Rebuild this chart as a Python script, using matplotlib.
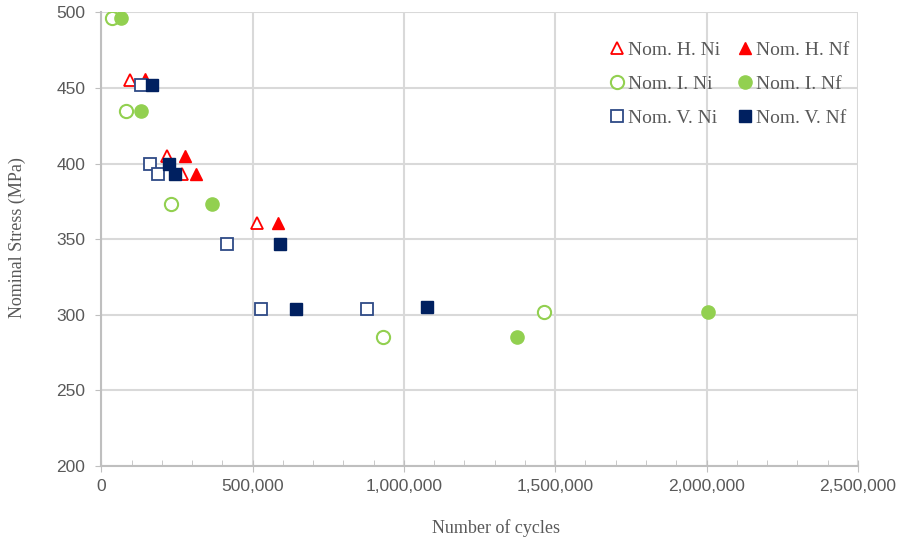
import matplotlib.pyplot as plt
from matplotlib.ticker import FuncFormatter, MultipleLocator

# cycles and stress
h_ni_x = [93000, 217000, 268000, 514000]
h_ni_y = [455, 405, 393, 361]
h_nf_x = [143000, 275000, 312000, 585000]
h_nf_y = [456, 405, 393, 361]

i_ni_x = [35000, 81000, 231000, 932000, 1464000]
i_ni_y = [496, 435, 373, 285, 302]
i_nf_x = [65000, 131000, 367000, 1374000, 2005000]
i_nf_y = [496, 435, 373, 285, 302]

v_ni_x = [131000, 160000, 187000, 415000, 527000, 879000]
v_ni_y = [452, 400, 393, 347, 304, 304]
v_nf_x = [167000, 225000, 242000, 591000, 642000, 1075000]
v_nf_y = [452, 400, 393, 347, 304, 305]

grey_txt = '#595959'
grid_c = '#d9d9d9'
red = '#ff0000'
green = '#92d050'
navy = '#002060'
navy_open = '#2e4a86'

fig = plt.figure(figsize=(9.02, 5.41), dpi=100)
ax = fig.add_axes([0.1124, 0.1386, 0.8386, 0.8386])

ms = 9
h1, = ax.plot(h_ni_x, h_ni_y, '^', ms=ms, mfc='white', mec=red, mew=1.3, ls='none', label='Nom. H. Ni')
h2, = ax.plot(h_nf_x, h_nf_y, '^', ms=ms, mfc=red, mec=red, ls='none', label='Nom. H. Nf')
h3, = ax.plot(i_ni_x, i_ni_y, 'o', ms=ms + 0.5, mfc='white', mec=green, mew=1.5, ls='none', label='Nom. I. Ni')
h4, = ax.plot(i_nf_x, i_nf_y, 'o', ms=ms + 0.5, mfc=green, mec=green, ls='none', label='Nom. I. Nf')
h5, = ax.plot(v_ni_x, v_ni_y, 's', ms=ms - 0.5, mfc='white', mec=navy_open, mew=1.3, ls='none', label='Nom. V. Ni')
h6, = ax.plot(v_nf_x, v_nf_y, 's', ms=ms - 0.5, mfc=navy, mec=navy, ls='none', label='Nom. V. Nf')

ax.set_xlim(0, 2500000)
ax.set_ylim(200, 500)
ax.xaxis.set_major_locator(MultipleLocator(500000))
ax.xaxis.set_minor_locator(MultipleLocator(100000))
ax.yaxis.set_major_locator(MultipleLocator(50))
ax.xaxis.set_major_formatter(FuncFormatter(lambda v, p: f'{int(v):,}'))

ax.grid(True, which='major', color=grid_c, lw=1.5, zorder=0)
ax.set_axisbelow(True)
for s in ['top', 'right']:
    ax.spines[s].set_visible(False)
for s in ['left', 'bottom']:
    ax.spines[s].set_color('#bfbfbf')
    ax.spines[s].set_linewidth(1.5)

ax.tick_params(axis='x', which='major', direction='inout', length=8, color='#bfbfbf',
               labelsize=12.5, labelcolor=grey_txt, pad=5)
ax.tick_params(axis='x', which='minor', direction='in', length=4, color='#bfbfbf')
ax.tick_params(axis='y', which='major', direction='out', length=4, color='#bfbfbf',
               labelsize=12.5, labelcolor=grey_txt, pad=7.5)
for lab in ax.get_xticklabels() + ax.get_yticklabels():
    lab.set_family('Liberation Sans')

ax.set_xlabel('Number of cycles', family='Liberation Serif', fontsize=13, color=grey_txt)
ax.set_ylabel('Nominal Stress (MPa)', family='Liberation Serif', fontsize=13, color=grey_txt)
ax.xaxis.set_label_coords(0.522, -0.118)
ax.yaxis.set_label_coords(-0.099, 0.503)

leg = ax.legend(handles=[h1, h3, h5, h2, h4, h6], ncol=2, loc='upper left',
                bbox_to_anchor=(0.669, 0.937), frameon=False,
                prop={'family': 'Liberation Serif', 'size': 14},
                handletextpad=0.05, handlelength=1.0, columnspacing=0.8,
                labelspacing=0.86, borderaxespad=0, borderpad=0)
for t in leg.get_texts():
    t.set_color(grey_txt)

fig.savefig('out.png', dpi=100)
